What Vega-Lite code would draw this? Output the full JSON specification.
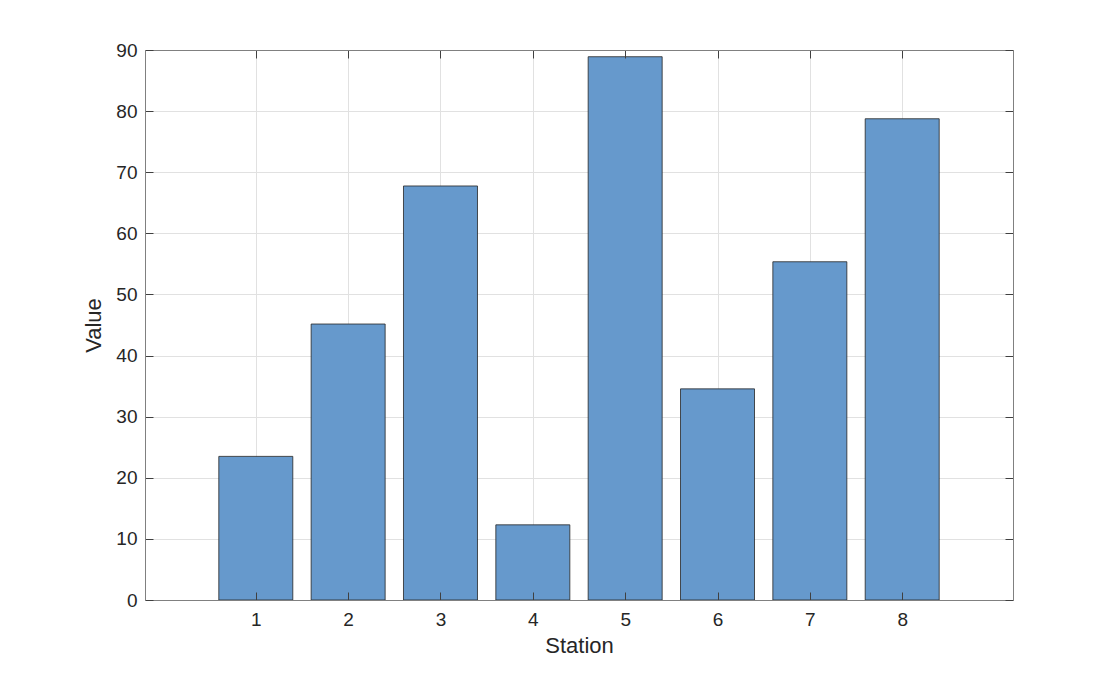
{
  "$schema": "https://vega.github.io/schema/vega-lite/v6.json",
  "width": 868,
  "height": 550,
  "autosize": {"type": "none"},
  "padding": {"left": 145, "top": 50, "right": 106, "bottom": 74},
  "background": "white",
  "data": {"values": [
    {"Station": 1, "Value": 23.5},
    {"Station": 2, "Value": 45.16},
    {"Station": 3, "Value": 67.75},
    {"Station": 4, "Value": 12.3},
    {"Station": 5, "Value": 88.9},
    {"Station": 6, "Value": 34.55},
    {"Station": 7, "Value": 55.35},
    {"Station": 8, "Value": 78.75}
  ]},
  "config": {
    "view": {"stroke": null},
    "axis": {
      "labelFont": "Liberation Sans",
      "titleFont": "Liberation Sans",
      "labelFontSize": 19,
      "titleFontSize": 22,
      "titleFontWeight": "normal",
      "labelColor": "#262626",
      "titleColor": "#262626",
      "domainColor": "#808080",
      "domainWidth": 1,
      "tickColor": "#404040",
      "tickSize": -8,
      "tickWidth": 1,
      "gridColor": "#e1e1e1",
      "gridWidth": 1
    }
  },
  "layer": [
    {
      "mark": {"type": "point", "opacity": 0},
      "encoding": {
        "x": {
          "field": "Station", "type": "quantitative",
          "scale": {"domain": [-0.2, 9.2], "nice": false, "zero": false, "padding": 0},
          "axis": {"orient": "bottom", "values": [1,2,3,4,5,6,7,8], "labels": false, "ticks": false, "domain": false, "title": null, "grid": true, "zindex": 0}
        },
        "y": {
          "field": "Value", "type": "quantitative",
          "scale": {"domain": [0, 90], "nice": false, "padding": 0},
          "axis": {"orient": "left", "values": [0,10,20,30,40,50,60,70,80,90], "labels": false, "ticks": false, "domain": false, "title": null, "grid": true, "zindex": 0}
        }
      }
    },
    {
      "mark": {"type": "bar", "width": 74, "fill": "#6699cc", "stroke": "#262626", "strokeWidth": 1, "strokeOpacity": 0.8},
      "encoding": {
        "x": {
          "field": "Station", "type": "quantitative",
          "axis": {"orient": "bottom", "values": [1,2,3,4,5,6,7,8], "title": "Station", "labelPadding": 18, "titlePadding": 6, "grid": false, "zindex": 1}
        },
        "y": {
          "field": "Value", "type": "quantitative",
          "axis": {"orient": "left", "values": [0,10,20,30,40,50,60,70,80,90], "title": "Value", "labelPadding": 16, "titlePadding": 10, "grid": false, "zindex": 1}
        }
      }
    },
    {
      "mark": {"type": "point", "opacity": 0},
      "encoding": {
        "x": {
          "field": "Station", "type": "quantitative",
          "axis": {"orient": "top", "values": [1,2,3,4,5,6,7,8], "labels": false, "title": null, "grid": false, "zindex": 1}
        },
        "y": {
          "field": "Value", "type": "quantitative",
          "axis": {"orient": "right", "values": [0,10,20,30,40,50,60,70,80,90], "labels": false, "title": null, "grid": false, "zindex": 1}
        }
      }
    }
  ],
  "resolve": {"axis": {"x": "independent", "y": "independent"}}
}
